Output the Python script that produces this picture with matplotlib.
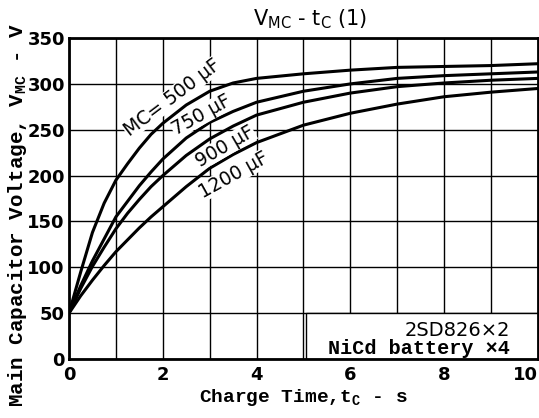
import numpy as np
import matplotlib
matplotlib.use('Agg')
import matplotlib.pyplot as plt
from matplotlib.patches import Rectangle

# charge time (s)
t = [0, 0.25, 0.5, 0.75, 1, 1.25, 1.5, 1.75, 2, 2.5, 3, 3.5, 4, 5, 6, 7, 8, 9, 10]

# main capacitor voltage (V)
v500 = [50, 95, 138, 170, 195, 213, 230, 245, 257, 277, 292, 301, 306, 311, 315, 318, 319, 320, 322]
v750 = [50, 80, 107, 131, 155, 172, 189, 204, 218, 241, 258, 270, 280, 292, 300, 306, 309, 311, 313]
v900 = [50, 77, 101, 122, 142, 159, 174, 188, 200, 222, 240, 254, 266, 280, 290, 297, 301, 304, 306]
v1200 = [50, 69, 86, 102, 117, 130, 143, 155, 166, 188, 208, 223, 236, 255, 268, 278, 286, 291, 295]

xticks = [0, 2, 4, 6, 8, 10]
yticks = [0, 50, 100, 150, 200, 250, 300, 350]

mono = ['Liberation Mono', 'DejaVu Sans Mono']
narrow = ['Liberation Sans Narrow', 'DejaVu Sans']

fig = plt.figure(figsize=(5.39, 4.18), dpi=100)
ax = fig.add_axes([0.128, 0.141, 0.87, 0.768])

for v in [v500, v750, v900, v1200]:
    ax.plot(t, v, color='black', lw=2.2, zorder=3, solid_capstyle='round',
            solid_joinstyle='round')

ax.set_xlim(0, 10)
ax.set_ylim(0, 350)
ax.set_xticks(np.arange(0, 11, 1), minor=True)
ax.set_xticks(xticks)
ax.set_yticks(yticks)
ax.grid(True, which='both', color='black', lw=1.0)
ax.tick_params(which='both', length=0, pad=3)
ax.tick_params(axis='x', pad=5)
for lab in ax.get_xticklabels() + ax.get_yticklabels():
    lab.set_family(narrow)
    lab.set_fontweight('bold')
    lab.set_fontsize(13)
ax.get_xticklabels()[-1].set_ha('right')
for s in ax.spines.values():
    s.set_linewidth(2)

# note box in the lower right
ax.add_patch(Rectangle((5.05, 0), 4.95, 50, facecolor='white',
                       edgecolor='black', lw=1.0, zorder=2.5))
ax.text(9.4, 31, '2SD826\u00d72', family=['DejaVu Sans'], fontsize=14,
        ha='right', va='center', zorder=4)
ax.text(9.4, 12, 'NiCd battery \u00d74', family=mono, fontsize=14.5,
        fontweight='bold', ha='right', va='center', zorder=4)

# curve labels
box = dict(facecolor='white', edgecolor='none', pad=0.1)
ax.text(2.2, 285, 'MC= 500 \u03bcF', rotation=37, fontsize=13.5,
        family=['DejaVu Sans'], ha='center', va='center', bbox=box, zorder=4)
ax.text(2.82, 266, '750 \u03bcF', rotation=29, fontsize=13.5,
        family=['DejaVu Sans'], ha='center', va='center', bbox=box, zorder=4)
ax.text(3.33, 232, '900 \u03bcF', rotation=30, fontsize=13.5,
        family=['DejaVu Sans'], ha='center', va='center', bbox=box, zorder=4)
ax.text(3.52, 201, '1200 \u03bcF', rotation=29, fontsize=13.5,
        family=['DejaVu Sans'], ha='center', va='center', bbox=box, zorder=4)

ax.set_xlabel('Charge Time,t$_\\mathregular{C}$ - s', family=mono,
              fontsize=14, fontweight='bold', labelpad=2)
fig.text(18 / 539, 0.486, 'Main Capacitor Voltage, V$_\\mathregular{MC}$ - V',
         family=mono, fontsize=15, fontweight='bold', rotation=90,
         ha='center', va='center')
fig.text(0.575, 0.955, 'V$_\\mathregular{MC}$ - t$_\\mathregular{C}$ (1)',
         family=['DejaVu Sans'], fontsize=15, ha='center', va='center')

fig.savefig('out.png', dpi=100)
